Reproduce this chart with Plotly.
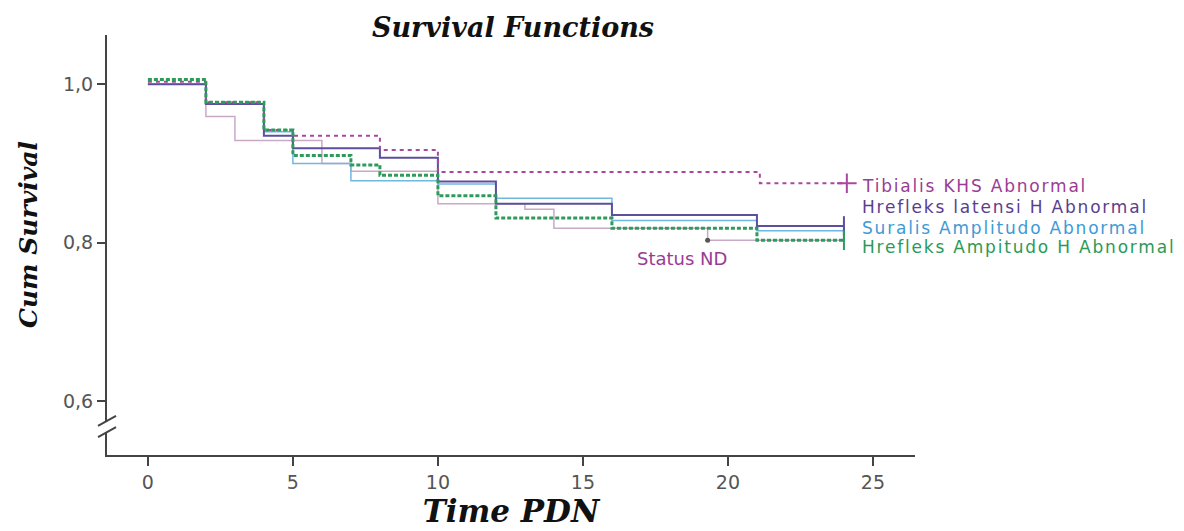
import plotly.graph_objects as go

# ---- data ----
names = ["Tibialis KHS Abnormal", "Hrefleks latensi H Abnormal",
         "Suralis Amplitudo Abnormal", "Hrefleks Ampitudo H Abnormal"]

tib_t = [0, 2, 4, 5, 8, 10, 21.1, 24.1]
tib_s = [1.003, 0.977, 0.942, 0.935, 0.917, 0.889, 0.875, 0.875]

lat_t = [0, 2, 4, 5, 8, 10, 12, 16, 21, 24]
lat_s = [1.0, 0.975, 0.935, 0.919, 0.907, 0.877, 0.849, 0.835, 0.821, 0.821]

sur_t = [0, 2, 4, 5, 7, 10, 12, 16, 21, 24]
sur_s = [1.0, 0.975, 0.940, 0.900, 0.878, 0.874, 0.856, 0.828, 0.815, 0.815]

amp_t = [0, 2, 4, 5, 7, 8, 10, 12, 16, 21, 24]
amp_s = [1.006, 0.977, 0.942, 0.910, 0.898, 0.885, 0.859, 0.831, 0.818, 0.803, 0.803]

nd_name = "Status ND"
nd_t = [0, 2, 3, 6, 7, 10, 13, 14, 19.3, 24]
nd_s = [1.0, 0.959, 0.929, 0.900, 0.890, 0.849, 0.842, 0.818, 0.803, 0.803]
nd_censor_t = [19.3]
nd_censor_s = [0.803]

x_ticks = [0, 5, 10, 15, 20, 25]
y_ticks = [0.6, 0.8, 1.0]
y_ticktext = ["0,6", "0,8", "1,0"]

colors = ["#a8489f", "#5e4f9e", "#6fb8e0", "#2f9a5c"]
label_colors = ["#9a3c94", "#5a3e8e", "#3d9ad6", "#2b9a57"]
nd_color = "#c9aac6"

fig = go.Figure()

# Status ND (thin grey-pink)
fig.add_trace(go.Scatter(x=nd_t, y=nd_s, mode="lines", line_shape="hv",
                         line=dict(color=nd_color, width=1.5), name=nd_name,
                         showlegend=False, hoverinfo="skip"))
fig.add_trace(go.Scatter(x=nd_censor_t, y=nd_censor_s, mode="markers",
                         marker=dict(symbol="circle", size=5, color="#555555"),
                         showlegend=False, hoverinfo="skip"))

series = [(sur_t, sur_s, 2, dict(width=1.5), "line-ns"),
          (lat_t, lat_s, 1, dict(width=2), "line-ns"),
          (tib_t, tib_s, 0, dict(width=2, dash="4px,4px"), "cross-thin"),
          (amp_t, amp_s, 3, dict(width=3, dash="4px,2px"), "line-ns")]

for t, s, i, ln, sym in series:
    fig.add_trace(go.Scatter(x=t, y=s, mode="lines", line_shape="hv",
                             line=dict(color=colors[i], **ln), name=names[i],
                             showlegend=False, hoverinfo="skip"))
    fig.add_trace(go.Scatter(x=[t[-1]], y=[s[-1]], mode="markers",
                             marker=dict(symbol=sym, size=14,
                                         line=dict(color=colors[i], width=2)),
                             showlegend=False, hoverinfo="skip"))

label_font = "DejaVu Sans"

# labels at the ends of the curves
label_y = [0.871, 0.845, 0.819, 0.794]
for i, nm in enumerate(names):
    fig.add_annotation(x=24.55, y=label_y[i],
                       text='<span style="letter-spacing:1.8px">' + nm + "</span>",
                       showarrow=False, xanchor="left", yanchor="middle",
                       font=dict(family=label_font, size=17, color=label_colors[i]))

fig.add_annotation(x=18.4, y=0.780, text=nd_name, showarrow=False,
                   xanchor="center", yanchor="middle",
                   font=dict(family=label_font, size=18, color="#9a3c94"))

# axis break marks on the y axis
fig.add_shape(type="rect", xref="paper", yref="y", xsizemode="pixel", xanchor=0,
              x0=-4, x1=4, y0=0.560, y1=0.574, fillcolor="white", line=dict(width=0),
              layer="above")
for y0 in (0.561, 0.575):
    fig.add_shape(type="line", xref="paper", yref="y", xsizemode="pixel",
                  ysizemode="pixel", xanchor=0, yanchor=y0,
                  x0=-9, x1=9, y0=-5, y1=5, line=dict(color="#444444", width=2),
                  layer="above")

title_font = dict(family="DejaVu Serif", size=27, color="#111111")

# y axis title as rotated annotation (positioned like the reference)
fig.add_annotation(xref="paper", yref="paper", x=(28 - 107) / 808, y=(455 - 235) / 420,
                   text="<b><i>Cum Survival</i></b>", textangle=-90, showarrow=False,
                   xanchor="center", yanchor="middle",
                   font=dict(family="DejaVu Serif", size=25, color="#111111"))

fig.update_layout(
    width=1184, height=531,
    margin=dict(l=107, r=269, t=35, b=76),
    plot_bgcolor="white", paper_bgcolor="white",
    title=dict(text="<b><i>Survival Functions</i></b>", x=513 / 1184, xanchor="center",
               xref="container", y=1 - 28 / 531, yanchor="middle", font=title_font),
    showlegend=False,
)
fig.update_xaxes(range=[-1.41, 26.45], tickvals=x_ticks, showgrid=False, zeroline=False,
                 automargin=False,
                 showline=True, linecolor="#444444", linewidth=2,
                 ticks="outside", ticklen=9, tickwidth=2, tickcolor="#444444",
                 tickfont=dict(family=label_font, size=19, color="#555555"),
                 title=dict(text="<b><i>Time PDN</i></b>",
                            font=dict(family="DejaVu Serif", size=31, color="#111111"),
                            standoff=8))
fig.update_yaxes(range=[0.532, 1.062], tickvals=y_ticks, ticktext=y_ticktext,
                 showgrid=False, zeroline=False, automargin=False,
                 showline=True, linecolor="#444444", linewidth=2,
                 ticks="outside", ticklen=8, tickwidth=2, tickcolor="#444444",
                 tickfont=dict(family=label_font, size=19, color="#555555"))

fig.write_html("out.html", post_script="document.body.style.margin='0px';",
               config={"displayModeBar": False})
